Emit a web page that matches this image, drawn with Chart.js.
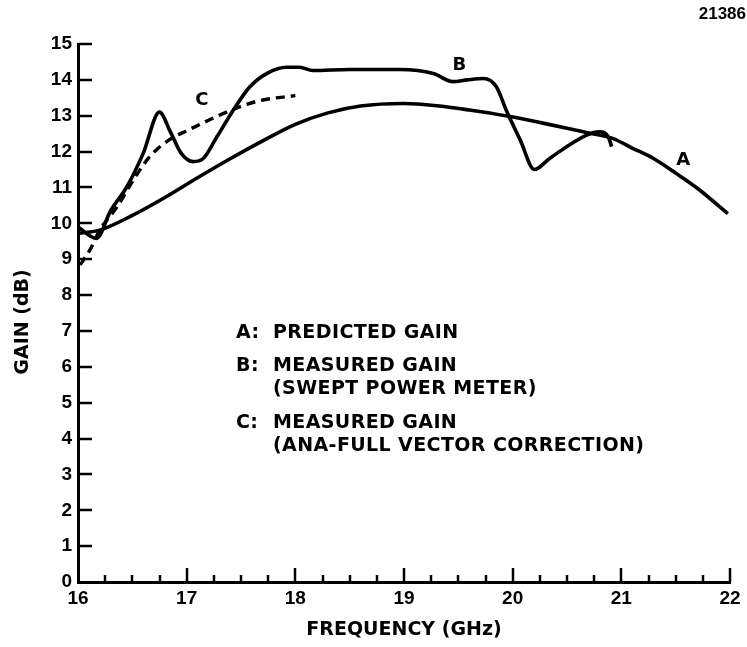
<!DOCTYPE html>
<html>
<head>
<meta charset="utf-8">
<script src="https://cdn.jsdelivr.net/npm/chart.js@4.4.1/dist/chart.umd.min.js"></script>
<style>
html,body{margin:0;padding:0;background:#fff;}
#wrap{width:747px;height:647px;position:relative;}
</style>
</head>
<body>
<div id="wrap"><canvas id="c" width="747" height="647"></canvas></div>
<script>
// ---- Data ----
// A: predicted gain
const predictedFreq = [16.0, 16.2, 16.5, 16.8, 17.1, 17.4, 17.7, 18.0, 18.3, 18.6, 19.0, 19.3, 19.6, 19.95, 20.3, 20.68, 20.92, 21.1, 21.3, 21.5, 21.72, 21.98];
const predictedGain = [9.72, 9.81, 10.22, 10.72, 11.27, 11.8, 12.3, 12.76, 13.08, 13.27, 13.34, 13.28, 13.16, 12.99, 12.78, 12.53, 12.37, 12.1, 11.8, 11.4, 10.93, 10.27];
// B: measured gain (swept power meter)
const sweptFreq = [16.0, 16.17, 16.3, 16.45, 16.6, 16.75, 16.85, 16.95, 17.06, 17.15, 17.28, 17.43, 17.58, 17.74, 17.92, 18.04, 18.16, 18.5, 18.96, 19.27, 19.45, 19.58, 19.73, 19.85, 19.94, 20.07, 20.2, 20.34, 20.68, 20.8, 20.88, 20.91];
const sweptGain = [9.9, 9.58, 10.35, 11.02, 11.95, 13.1, 12.55, 11.95, 11.72, 11.8, 12.42, 13.16, 13.8, 14.18, 14.35, 14.35, 14.26, 14.29, 14.29, 14.18, 13.95, 14.0, 14.04, 13.81, 13.16, 12.32, 11.5, 11.81, 12.46, 12.55, 12.41, 12.14];
// C: measured gain (ANA - full vector correction)
const anaFreq = [16.02, 16.11, 16.2, 16.36, 16.51, 16.66, 16.85, 17.0, 17.15, 17.43, 17.67, 18.0];
const anaGain = [8.84, 9.26, 9.81, 10.46, 11.21, 11.86, 12.35, 12.58, 12.8, 13.18, 13.42, 13.56];

const curveNames = ['A', 'B', 'C'];
const curveNameFreq = [21.57, 19.51, 17.14];
const curveNameGain = [11.76, 14.41, 13.44];

const legendKeys = ['A:', 'B:', 'C:'];
const legendLines = [['PREDICTED GAIN'], ['MEASURED GAIN', '(SWEPT POWER METER)'], ['MEASURED GAIN', '(ANA-FULL VECTOR CORRECTION)']];

const xMin = 16, xMax = 22, xMinorStep = 0.25;
const yMin = 0, yMax = 15;
const figureId = '21386';
const xTitle = 'FREQUENCY (GHz)';
const yTitle = 'GAIN (dB)';

// ---- Chart ----
const pts = (xs, ys) => xs.map((x, i) => ({x: x, y: ys[i]}));
const TICK_FONT = {family: '"Liberation Sans", Arial, sans-serif', size: 19, weight: 'bold'};
const TITLE_FONT = {family: '"DejaVu Sans", sans-serif', size: 19, weight: 'bold'};

const decorPlugin = {
  id: 'decor',
  afterDraw(chart) {
    const {ctx, chartArea: a, scales: {x, y}} = chart;
    ctx.save();
    ctx.strokeStyle = '#000';
    ctx.lineCap = 'butt';
    // x tick marks (pointing inward)
    ctx.lineWidth = 2.5;
    for (let v = xMin + xMinorStep; v <= xMax + 1e-9; v += xMinorStep) {
      const px = Math.round(x.getPixelForValue(v));
      const major = Math.abs(v - Math.round(v)) < 1e-6;
      const len = major ? 14 : 7;
      ctx.beginPath();
      ctx.moveTo(px, a.bottom);
      ctx.lineTo(px, a.bottom - len);
      ctx.stroke();
    }
    // y tick marks
    for (let v = yMin + 1; v <= yMax; v += 1) {
      const py = Math.round(y.getPixelForValue(v));
      ctx.beginPath();
      ctx.moveTo(a.left, py);
      ctx.lineTo(a.left + 14, py);
      ctx.stroke();
    }
    ctx.fillStyle = '#000';
    // y axis title
    ctx.save();
    ctx.font = 'bold 19px "DejaVu Sans", sans-serif';
    ctx.textAlign = 'center';
    ctx.textBaseline = 'middle';
    ctx.translate(23, (a.top + a.bottom) / 2 + 9);
    ctx.rotate(-Math.PI / 2);
    ctx.fillText(yTitle, 0, 0);
    ctx.restore();
    // curve names
    ctx.font = 'bold 18px "DejaVu Sans", sans-serif';
    ctx.textAlign = 'center';
    ctx.textBaseline = 'middle';
    curveNames.forEach((n, i) => {
      ctx.fillText(n, x.getPixelForValue(curveNameFreq[i]), y.getPixelForValue(curveNameGain[i]));
    });
    // legend block
    ctx.textAlign = 'left';
    ctx.font = 'bold 19px "DejaVu Sans", sans-serif';
    try { ctx.letterSpacing = '0.4px'; } catch (e) {}
    const keyX = a.left + 158, textX = a.left + 195;
    const rowY = [[333], [366, 389], [423, 446]];
    legendKeys.forEach((k, i) => {
      ctx.fillText(k, keyX, rowY[i][0]);
      legendLines[i].forEach((t, j) => ctx.fillText(t, textX, rowY[i][j]));
    });
    // figure number
    ctx.font = 'bold 17px "Liberation Sans", Arial, sans-serif';
    try { ctx.letterSpacing = '0px'; } catch (e) {}
    ctx.textAlign = 'right';
    ctx.fillText(figureId, chart.width - 1, 14);
    ctx.restore();
  }
};

new Chart(document.getElementById('c'), {
  type: 'line',
  data: {
    datasets: [
      {label: 'A: PREDICTED GAIN', data: pts(predictedFreq, predictedGain), borderColor: '#000', borderWidth: 3.6, pointRadius: 0, cubicInterpolationMode: 'monotone', fill: false},
      {label: 'B: MEASURED GAIN (SWEPT POWER METER)', data: pts(sweptFreq, sweptGain), borderColor: '#000', borderWidth: 3.6, pointRadius: 0, cubicInterpolationMode: 'monotone', fill: false},
      {label: 'C: MEASURED GAIN (ANA-FULL VECTOR CORRECTION)', data: pts(anaFreq, anaGain), borderColor: '#000', borderWidth: 3.4, borderDash: [9, 6], pointRadius: 0, cubicInterpolationMode: 'monotone', fill: false}
    ]
  },
  options: {
    responsive: false,
    animation: false,
    devicePixelRatio: 1,
    layout: {padding: {top: 44, right: 17, left: 0, bottom: 0}},
    plugins: {legend: {display: false}, tooltip: {enabled: false}, title: {display: false}},
    scales: {
      x: {
        type: 'linear', min: xMin, max: xMax,
        afterFit: s => { s.height = 65; },
        ticks: {stepSize: 1, color: '#000', font: TICK_FONT, padding: 5, maxRotation: 0, autoSkip: false},
        grid: {display: false, drawTicks: false},
        border: {display: true, color: '#000', width: 3},
        title: {display: true, text: xTitle, color: '#000', font: TITLE_FONT, padding: {top: 0, bottom: 6}}
      },
      y: {
        type: 'linear', min: yMin, max: yMax,
        afterFit: s => { s.width = 78; },
        ticks: {stepSize: 1, color: '#000', font: TICK_FONT, padding: 6},
        grid: {display: false, drawTicks: false},
        border: {display: true, color: '#000', width: 3},
        title: {display: false, text: yTitle}
      }
    }
  },
  plugins: [decorPlugin]
});
</script>
</body>
</html>
